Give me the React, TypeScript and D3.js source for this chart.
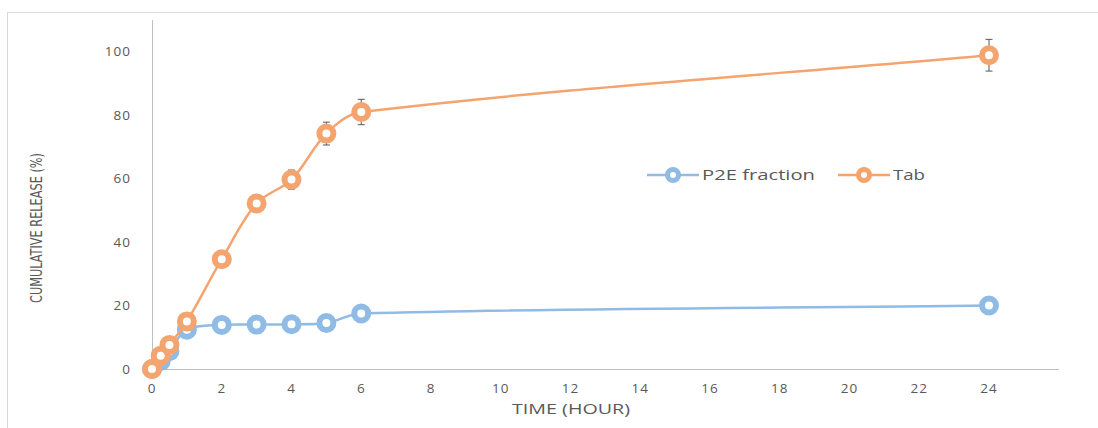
import { useRef, useEffect } from "react";
import * as d3 from "d3";

// sampling times (hours)
const hours = [0, 0.25, 0.5, 1, 2, 3, 4, 5, 6, 24];

// cumulative release (%)
const p2eValues = [0, 2.5, 5.6, 12.4, 13.9, 14.0, 14.1, 14.5, 17.5, 20.0];
const p2eErrors = [0, 0, 0, 0.6, 0.8, 1.3, 1.0, 1.1, 1.3, 0.8];

const tabValues = [0, 4.2, 7.6, 15.0, 34.6, 52.2, 59.7, 74.2, 81.0, 98.9];
const tabErrors = [0, 0, 0.6, 0.8, 1.8, 2.6, 3.0, 3.6, 4.0, 5.0];

const xTicks = [0, 2, 4, 6, 8, 10, 12, 14, 16, 18, 20, 22, 24];
const yTicks = [0, 20, 40, 60, 80, 100];

const seriesNames = ["P2E fraction", "Tab"];

const BLUE = "#8fbbe5";
const ORANGE = "#f4a46f";

// excel-ish smoothing: tangent along neighbours, handle length = segment length / 3
const smoothPath = (pts) => {
    const p = d3.path();
    const n = pts.length;
    const dirs = pts.map((pt, i) => {
        const a = pts[Math.max(0, i - 1)];
        const b = pts[Math.min(n - 1, i + 1)];
        const dx = b[0] - a[0];
        const dy = b[1] - a[1];
        const len = Math.hypot(dx, dy) || 1;
        return [dx / len, dy / len];
    });
    p.moveTo(pts[0][0], pts[0][1]);
    for (let i = 0; i < n - 1; i++) {
        const a = pts[i];
        const b = pts[i + 1];
        const seg = Math.hypot(b[0] - a[0], b[1] - a[1]) / 3;
        p.bezierCurveTo(
            a[0] + dirs[i][0] * seg, a[1] + dirs[i][1] * seg,
            b[0] - dirs[i + 1][0] * seg, b[1] - dirs[i + 1][1] * seg,
            b[0], b[1]
        );
    }
    return p.toString();
};

const App = () => {
    const ref = useRef(null);

    const W = 1098;
    const H = 428;

    useEffect(() => {
        const svg = d3.select(ref.current);
        svg.selectAll("*").remove();

        const xScale = d3.scaleLinear().domain([0, 24]).range([152, 989]);
        const yScale = d3.scaleLinear().domain([0, 110]).range([369, 20]);

        // outer frame
        svg.append("rect")
            .attr("x", 7.5).attr("y", 12.5)
            .attr("width", 1200).attr("height", 500)
            .attr("fill", "white")
            .attr("stroke", "#d9d9d9");

        // axes lines
        svg.append("line")
            .attr("x1", 152.5).attr("x2", 152.5)
            .attr("y1", yScale(110)).attr("y2", yScale(0))
            .attr("stroke", "#bfbfbf");
        svg.append("line")
            .attr("x1", xScale(0)).attr("x2", 1059)
            .attr("y1", 369.5).attr("y2", 369.5)
            .attr("stroke", "#bfbfbf");

        const font = "'Open Sans', 'DejaVu Sans', sans-serif";

        svg.append("g").selectAll("text")
            .data(yTicks)
            .join("text")
            .attr("x", 131)
            .attr("y", d => yScale(d))
            .attr("dy", "0.35em")
            .attr("text-anchor", "end")
            .attr("font-family", font)
            .attr("font-size", 13.5)
            .attr("letter-spacing", 1)
            .attr("fill", "#595959")
            .text(d => d);

        svg.append("g").selectAll("text")
            .data(xTicks)
            .join("text")
            .attr("x", d => xScale(d))
            .attr("y", 393)
            .attr("text-anchor", "middle")
            .attr("font-family", font)
            .attr("font-size", 13.5)
            .attr("letter-spacing", 1)
            .attr("fill", "#595959")
            .text(d => d);

        const narrow = "'Liberation Sans Narrow', 'DejaVu Sans Condensed', sans-serif";
        svg.append("text")
            .attr("x", 571)
            .attr("y", 414)
            .attr("text-anchor", "middle")
            .attr("font-family", font)
            .attr("font-size", 14)
            .attr("fill", "#595959")
            .attr("textLength", 118)
            .attr("lengthAdjust", "spacingAndGlyphs")
            .text("TIME (HOUR)");

        svg.append("text")
            .attr("transform", `translate(42, 228) rotate(-90)`)
            .attr("text-anchor", "middle")
            .attr("font-family", narrow)
            .attr("font-size", 15)
            .attr("fill", "#595959")
            .attr("textLength", 150)
            .attr("lengthAdjust", "spacingAndGlyphs")
            .text("CUMULATIVE RELEASE (%)");

        const drawSeries = (values, errors, color) => {
            const pts = hours.map((h, i) => ({ h, v: values[i], e: errors[i] }));
            svg.append("path")
                .attr("d", smoothPath(pts.map(d => [xScale(d.h), yScale(d.v)])))
                .attr("fill", "none")
                .attr("stroke", color)
                .attr("stroke-width", 2.5);

            const eb = svg.append("g")
                .attr("stroke", "#595959")
                .attr("stroke-width", 1)
                .selectAll("g")
                .data(pts.filter(d => d.e > 0))
                .join("g");
            eb.append("line")
                .attr("x1", d => xScale(d.h)).attr("x2", d => xScale(d.h))
                .attr("y1", d => yScale(d.v + d.e)).attr("y2", d => yScale(d.v - d.e));
            eb.append("line")
                .attr("x1", d => xScale(d.h) - 3.5).attr("x2", d => xScale(d.h) + 3.5)
                .attr("y1", d => yScale(d.v + d.e)).attr("y2", d => yScale(d.v + d.e));
            eb.append("line")
                .attr("x1", d => xScale(d.h) - 3.5).attr("x2", d => xScale(d.h) + 3.5)
                .attr("y1", d => yScale(d.v - d.e)).attr("y2", d => yScale(d.v - d.e));

            svg.append("g").selectAll("circle")
                .data(pts)
                .join("circle")
                .attr("cx", d => xScale(d.h))
                .attr("cy", d => yScale(d.v))
                .attr("r", 7)
                .attr("fill", "white")
                .attr("stroke", color)
                .attr("stroke-width", 6);
        };

        drawSeries(p2eValues, p2eErrors, BLUE);
        drawSeries(tabValues, tabErrors, ORANGE);

        // legend
        const legend = [
            { name: seriesNames[0], color: BLUE, x: 647, len: 113 },
            { name: seriesNames[1], color: ORANGE, x: 838, len: 32 },
        ];
        const lg = svg.append("g").selectAll("g")
            .data(legend)
            .join("g")
            .attr("transform", d => `translate(${d.x}, 175)`);
        lg.append("line")
            .attr("x1", 0).attr("x2", 52)
            .attr("stroke", d => d.color)
            .attr("stroke-width", 2.5);
        lg.append("circle")
            .attr("cx", 26).attr("r", 5.5)
            .attr("fill", "white")
            .attr("stroke", d => d.color)
            .attr("stroke-width", 5)
        lg.append("text")
            .attr("x", 55)
            .attr("dy", "0.35em")
            .attr("font-family", font)
            .attr("font-size", 15)
            .attr("fill", "#595959")
            .attr("textLength", d => d.len)
            .attr("lengthAdjust", "spacingAndGlyphs")
            .text(d => d.name);
    }, []);

    return (
        <svg ref={ref} width={W} height={H} style={{ position: "absolute", left: 0, top: 0 }}></svg>
    );
};

export default App;
